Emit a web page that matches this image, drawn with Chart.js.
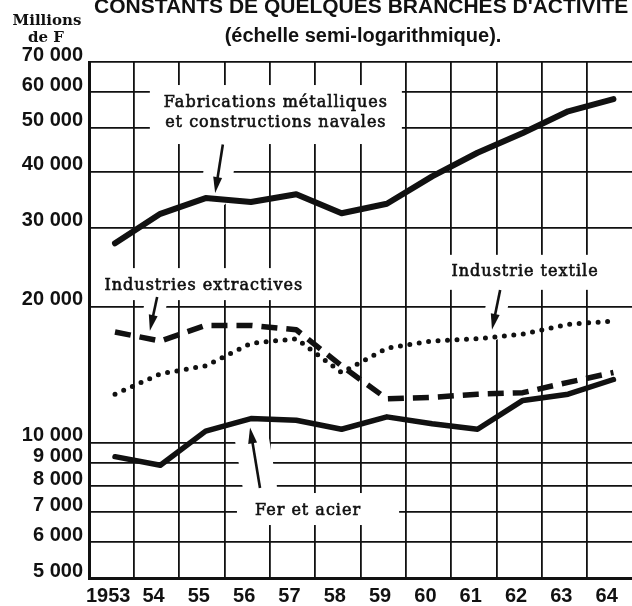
<!DOCTYPE html>
<html>
<head>
<meta charset="utf-8">
<title>Branches d'activité</title>
<style>
  body { margin: 0; background: #fff; }
  canvas { display: block; }
</style>
</head>
<body>
<canvas id="chart" width="632" height="606"></canvas>
<script src="https://cdn.jsdelivr.net/npm/chart.js@4/dist/chart.umd.min.js"></script>
<script>
var years = [1953, 1954, 1955, 1956, 1957, 1958, 1959, 1960, 1961, 1962, 1963, 1964];
var yearLabels = ["1953", "54", "55", "56", "57", "58", "59", "60", "61", "62", "63", "64"];
var fabrications = [27700, 32200, 34900, 34200, 35600, 32300, 33900, 39000, 44000, 48700, 54400, 57900];
var extractives = [17600, 16800, 18200, 18200, 17800, 14800, 12500, 12600, 12800, 12900, 13600, 14300];
var textile = [12800, 14200, 14800, 16600, 17000, 14300, 16200, 16800, 17000, 17400, 18300, 18600];
var ferAcier = [9300, 8900, 10600, 11300, 11200, 10700, 11400, 11000, 10700, 12400, 12800, 13800];
var yTicks = [5000, 6000, 7000, 8000, 9000, 10000, 20000, 30000, 40000, 50000, 60000, 70000];

var xMin = 1952.426, xMax = 1964.41;
var ink = "#111";
var sans = "'Liberation Sans', Arial, sans-serif";
var serif = "'DejaVu Serif', serif";

// étiquettes du graphique (ancrées en coordonnées de données)
var notes = [
  { lines: ["Fabrications métalliques", "et constructions navales"], x: 1956.55, y: 55600,
    arrow: [1955.38, 45900, 1955.21, 35800], pad: [14, 22, 14, 17], halo: 30 },
  { lines: ["Industries extractives"], x: 1954.96, y: 21800,
    arrow: [1953.93, 21050, 1953.77, 17700], pad: [7, 22, 8, 10], halo: 22 },
  { lines: ["Industrie textile"], x: 1962.05, y: 23450,
    arrow: [1961.5, 21800, 1961.32, 17800], pad: [6, 21, 6, 14], halo: 22 },
  { lines: ["Fer et acier"], x: 1957.26, y: 6900,
    arrow: [1956.2, 7920, 1955.98, 10800], pad: [18, 22, 38, 10], halo: 34 }
];

function fmt(v) {
  return String(v).replace(/\B(?=(\d{3})+(?!\d))/g, " ");
}
function pts(values) {
  return years.map(function (yr, i) { return { x: yr, y: values[i] }; });
}

var notesPlugin = {
  id: "notes",
  beforeDatasetsDraw: function (chart) {
    var ctx = chart.ctx, sx = chart.scales.x, sy = chart.scales.y;
    ctx.save();
    ctx.font = "16px " + serif;
    ctx.letterSpacing = "1px";
    notes.forEach(function (n) {
      var px = sx.getPixelForValue(n.x), py = sy.getPixelForValue(n.y);
      var w = Math.max.apply(null, n.lines.map(function (l) { return ctx.measureText(l).width; }));
      var last = py + (n.lines.length - 1) * 20;
      ctx.fillStyle = "#fff";
      ctx.fillRect(px - w / 2 - n.pad[0], py - n.pad[1], w + n.pad[0] + n.pad[2], last + n.pad[3] - py + n.pad[1]);
      var a = n.arrow;
      ctx.strokeStyle = "#fff";
      ctx.lineWidth = n.halo;
      ctx.lineCap = "round";
      ctx.beginPath();
      ctx.moveTo(sx.getPixelForValue(a[0]), sy.getPixelForValue(a[1]));
      ctx.lineTo(sx.getPixelForValue(a[2]), sy.getPixelForValue(a[3]));
      ctx.stroke();
    });
    ctx.restore();
  },
  afterDatasetsDraw: function (chart) {
    var ctx = chart.ctx, sx = chart.scales.x, sy = chart.scales.y;
    ctx.save();
    ctx.fillStyle = ink;
    ctx.strokeStyle = ink;
    ctx.font = "16px " + serif;
    ctx.letterSpacing = "1px";
    ctx.textAlign = "center";
    ctx.textBaseline = "alphabetic";
    notes.forEach(function (n) {
      var px = sx.getPixelForValue(n.x), py = sy.getPixelForValue(n.y);
      ctx.lineWidth = 0.6;
      n.lines.forEach(function (l, i) {
        ctx.fillText(l, px, py + i * 20);
        ctx.strokeText(l, px, py + i * 20);
      });
      var a = n.arrow;
      var x0 = sx.getPixelForValue(a[0]), y0 = sy.getPixelForValue(a[1]);
      var x1 = sx.getPixelForValue(a[2]), y1 = sy.getPixelForValue(a[3]);
      var dx = x1 - x0, dy = y1 - y0, len = Math.sqrt(dx * dx + dy * dy);
      var ux = dx / len, uy = dy / len, head = 16, half = 4.5;
      ctx.lineWidth = 2.6;
      ctx.lineCap = "butt";
      ctx.beginPath();
      ctx.moveTo(x0, y0);
      ctx.lineTo(x1 - ux * head * 0.8, y1 - uy * head * 0.8);
      ctx.stroke();
      ctx.beginPath();
      ctx.moveTo(x1, y1);
      ctx.lineTo(x1 - ux * head - uy * half, y1 - uy * head + ux * half);
      ctx.lineTo(x1 - ux * head + uy * half, y1 - uy * head - ux * half);
      ctx.closePath();
      ctx.fill();
    });

    // titre (coupé en haut comme dans l'original) et unité
    ctx.letterSpacing = "0px";
    ctx.textAlign = "left";
    ctx.font = "bold 21px " + sans;
    ctx.fillText("CONSTANTS DE QUELQUES BRANCHES D'ACTIVITÉ", 94, 13);
    ctx.textAlign = "center";
    ctx.font = "bold 20px " + sans;
    ctx.fillText("(échelle semi-logarithmique).", 363, 42);
    ctx.font = "bold 15px " + serif;
    ctx.fillText("Millions", 47, 25);
    ctx.fillText("de F", 46, 42);
    ctx.restore();
  }
};

new Chart(document.getElementById("chart"), {
  type: "line",
  data: {
    datasets: [
      { label: "Fabrications métalliques et constructions navales", data: pts(fabrications),
        borderColor: ink, borderWidth: 6, borderJoinStyle: "round", borderCapStyle: "round" },
      { label: "Industries extractives", data: pts(extractives),
        borderColor: ink, borderWidth: 5.5, borderDash: [16, 9], borderJoinStyle: "round" },
      { label: "Industrie textile", data: pts(textile),
        borderColor: ink, borderWidth: 5, borderDash: [0, 9.5], borderCapStyle: "round" },
      { label: "Fer et acier", data: pts(ferAcier),
        borderColor: ink, borderWidth: 5.5, borderJoinStyle: "round", borderCapStyle: "round" }
    ]
  },
  options: {
    responsive: false,
    animation: false,
    devicePixelRatio: 1,
    layout: { padding: { top: 62, left: 0, right: 0, bottom: 0 } },
    elements: { point: { radius: 0 }, line: { tension: 0 } },
    plugins: { legend: { display: false }, tooltip: { enabled: false } },
    scales: {
      xg: {
        type: "linear", position: "bottom", min: xMin, max: xMax,
        afterBuildTicks: function (s) {
          s.ticks = years.slice(0, 11).map(function (yr) { return { value: yr + 0.42 }; });
        },
        afterFit: function (s) { s.height = 0; },
        grid: { color: ink, lineWidth: 1.8, drawTicks: false },
        border: { display: false },
        ticks: { display: false }
      },
      x: {
        type: "linear", position: "bottom", min: xMin, max: xMax,
        afterBuildTicks: function (s) {
          s.ticks = years.map(function (yr) { return { value: yr - 0.15 }; });
        },
        afterFit: function (s) { s.height = 28; },
        grid: { display: false },
        border: { display: true, color: ink, width: 3 },
        ticks: {
          font: { family: sans, size: 20, weight: "bold" }, color: ink, padding: -2,
          maxRotation: 0, autoSkip: false,
          callback: function (v, i) { return yearLabels[i]; }
        }
      },
      y: {
        type: "logarithmic", min: 5000, max: 70000,
        afterBuildTicks: function (s) {
          s.ticks = yTicks.map(function (v) { return { value: v }; });
        },
        afterFit: function (s) { s.width = 89; },
        grid: { color: ink, lineWidth: 1.8, drawTicks: false },
        border: { color: ink, width: 3 },
        ticks: {
          font: { family: sans, size: 20, weight: "bold" }, color: ink, padding: 6, labelOffset: -7,
          autoSkip: false,
          callback: function (v) { return fmt(v); }
        }
      }
    }
  },
  plugins: [notesPlugin]
});
</script>
</body>
</html>
